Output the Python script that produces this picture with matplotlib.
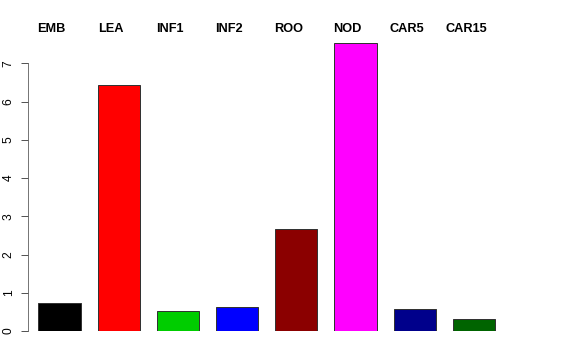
import matplotlib
matplotlib.use("Agg")
import matplotlib.pyplot as plt

categories = ["EMB", "LEA", "INF1", "INF2", "ROO", "NOD", "CAR5", "CAR15"]
values = [0.74, 6.43, 0.51, 0.64, 2.67, 7.52, 0.58, 0.32]
colors = ["#000000", "#FF0000", "#00CD00", "#0000FF", "#8B0000", "#FF00FF", "#00008B", "#006400"]
yticks = [0, 1, 2, 3, 4, 5, 6, 7]

plt.rcParams['font.family'] = ['Liberation Sans', 'DejaVu Sans']

W, H = 576, 360
fig = plt.figure(figsize=(W / 72, H / 72), dpi=72)
ppx = 42.29   # pixels per x unit
ppy = 38.24   # pixels per y unit
left_px, right_px, bottom_px, top_px = 28.3, 570, 331, 40
ax = fig.add_axes([left_px / W, (H - bottom_px) / H, (right_px - left_px) / W, (bottom_px - top_px) / H])

centers = [0.9 + 1.4 * i for i in range(len(categories))]
ax.bar(centers, values, width=1.0, color=colors, edgecolor="#333333", linewidth=1.0)

x0 = 0.4 - (38.3 - left_px) / ppx
ax.set_xlim(x0, x0 + (right_px - left_px) / ppx)
ax.set_ylim(0, (bottom_px - top_px) / ppy)

for s in ["top", "right", "bottom"]:
    ax.spines[s].set_visible(False)
ax.spines["left"].set_bounds(0, 7)
ax.spines["left"].set_color("#555555")
ax.set_xticks([])
ax.set_yticks(yticks)
ax.set_yticklabels([str(t) for t in yticks], rotation=90, va="center", fontsize=12)
ax.tick_params(axis="y", length=7.5, width=1, color="#555555", pad=6)

label_y = (bottom_px - 29) / ppy
for c, lab in zip(centers, categories):
    ax.text(c - 8 / ppx, label_y, lab, ha="center", va="center", fontsize=12.8,
            fontweight="bold", clip_on=False)

fig.savefig("out.png", dpi=72)
